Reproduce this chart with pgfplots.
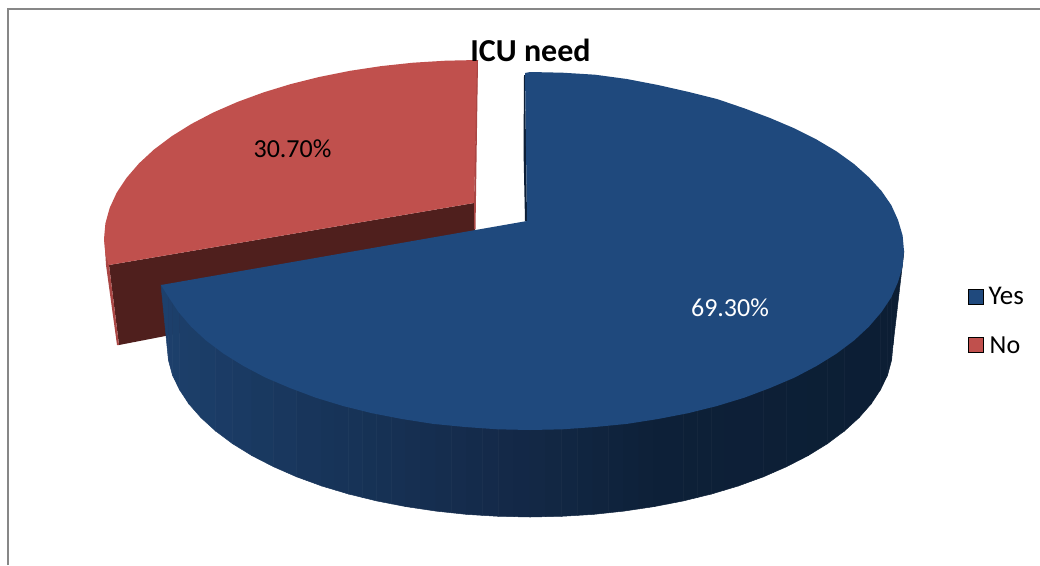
\documentclass[border=0pt]{standalone}
\usepackage{fontspec}
\setmainfont{Carlito}
\usepackage{pgfplots}
\pgfplotsset{compat=1.18}
\definecolor{pieblue}{RGB}{31,73,125}
\definecolor{piered}{RGB}{192,80,77}
\definecolor{reddark}{RGB}{79,31,29}
\definecolor{rededge}{RGB}{170,70,68}
\definecolor{bluedark}{RGB}{12,30,54}
\definecolor{frame}{RGB}{135,135,135}
\begin{document}
\begin{tikzpicture}
\useasboundingbox (0,0) rectangle (1040pt,565pt);
\begin{axis}[
    at={(0,0)}, anchor=south west,
    scale only axis, width=1040pt, height=565pt,
    xmin=0, xmax=1040, ymin=0, ymax=565,
    y dir=reverse,
    hide axis,
    colormap={side}{[1pt] rgb255(0pt)=(29,64,108) rgb255(139pt)=(24,54,92) rgb255(369pt)=(19,40,70) rgb255(499pt)=(13,32,56) rgb255(743pt)=(12,30,52)},
    point meta min=161, point meta max=904,
]
% frame
\addplot[frame, line width=1.8pt, forget plot] coordinates {(8,565) (8,9) (1040,9)};

% red slice: side, edges, top
\addplot[fill=reddark, draw=none, forget plot] coordinates {
    (109,265) (474,203) (475,229) (475,276) (119,345)} -- cycle;
\addplot[fill=rededge, draw=none, forget plot] coordinates {
    (104.5,240) (109,265) (119,345) (117,345) (106,265)} -- cycle;
\addplot[fill=piered, draw=none, forget plot] coordinates {
    (478,60) (445.4,60.7) (413,62.7) (381.2,66.1) (350.1,70.8) (320,76.8)
    (291,84) (263.5,92.4) (237.6,101.9) (213.5,112.4) (191.5,123.9)
    (171.6,136.3) (154,149.5) (139,163.4) (126.6,177.8) (116.7,192.7)
    (109.7,207.9) (105.4,223.4) (104,239) (105.4,254.6) (109,265) (474,203)} -- cycle;
\addplot[fill=rededge, draw=none, forget plot] coordinates {
    (477,60) (478,60) (475.5,229) (474,229) (474,203)} -- cycle;

% blue slice: wall in vertical strips (upper row is hidden by the top), sliver, top
\addplot[fill=bluedark, draw=none, forget plot] coordinates {
    (524,75) (523.5,150) (525,221) (527,221) (525,75)} -- cycle;
\addplot[surf, shader=faceted, faceted color=mapped color, line width=0.5pt, mesh/rows=2, point meta=x, forget plot] coordinates {
    (161,285) (168.4,290) (172.4,290) (179.4,295) (188.8,300) (201,300) (215.6,300)
    (232.6,300) (251.9,300) (273.3,300) (296.6,300) (321.8,300) (335.15,300) (348.5,300)
    (362.55,300) (376.6,300) (391.25,300) (405.9,300) (421,300) (436.1,300) (451.45,300)
    (466.8,300) (482.55,300) (498.3,300) (514.15,300) (530,251) (545.85,251) (561.7,251)
    (577.45,251) (593.2,251) (608.55,251) (623.9,251) (639,251) (654.1,251) (668.75,251)
    (683.4,251) (697.45,251) (711.5,251) (724.85,251) (738.2,251) (763.4,251) (786.7,251)
    (808.1,251) (827.4,251) (844.4,251) (859,251) (871.2,251) (880.6,251) (887.6,251)
    (891.6,251) (893,251) (904,251)
    (161,285) (168.4,360) (172.4,374.9) (179.4,389.5) (188.8,403.8) (201,417.7) (215.6,431)
    (232.6,443.7) (251.9,455.6) (273.3,466.6) (296.6,476.8) (321.8,486) (335.15,490) (348.5,494)
    (362.55,497.45) (376.6,500.9) (391.25,503.75) (405.9,506.6) (421,508.85) (436.1,511.1) (451.45,512.75)
    (466.8,514.4) (482.55,515.35) (498.3,516.3) (514.15,516.65) (530,517) (545.85,516.65) (561.7,516.3)
    (577.45,515.35) (593.2,514.4) (608.55,512.75) (623.9,511.1) (639,508.85) (654.1,506.6) (668.75,503.75)
    (683.4,500.9) (697.45,497.45) (711.5,494) (724.85,490) (738.2,486) (763.4,476.8) (786.7,466.6)
    (808.1,455.6) (827.4,443.7) (844.4,431) (859,417.7) (871.2,403.8) (880.6,389.5) (887.6,374.9)
    (891.6,360) (893,345) (904,251)
};
\addplot[fill=pieblue, draw=none, forget plot] coordinates {
    (525,73) (530,72) (562.6,72.7) (595,74.7) (626.8,79) (658,85) (688,91.8)
    (717,99) (744.5,108.4) (770,118) (794.5,128.4) (816.5,139.5) (836.4,151.3)
    (854,164) (869,177.4) (881.5,191) (891.3,205.2) (898,220) (902.6,235.4)
    (904,251) (902.6,266.6) (898,282) (891.3,297.3) (881.5,312) (869,326.6)
    (854,340.5) (836.4,353.7) (816.5,366) (794.5,377.6) (770,388) (744.5,397.6)
    (717,406) (688,413.2) (658,419) (626.8,423.9) (595,427) (562.6,429.3)
    (530,430) (497.4,429.3) (465,427) (433.2,423.9) (402,419) (372,413.2)
    (343,406) (315.5,397.6) (290,388) (265.5,377.6) (243.5,366) (223.6,353.7)
    (206,340.5) (191,326.6) (178.5,312) (168.7,297.3) (161,285) (527,221)} -- cycle;

% legend keys
\addplot[only marks, mark=square*, mark size=7.5pt, mark options={draw=none, fill=pieblue}, forget plot]
    coordinates {(975.5,296.5)};
\addplot[only marks, mark=square*, mark size=7.5pt, mark options={draw=none, fill=piered}, forget plot]
    coordinates {(975.5,344.5)};

\node[font=\fontsize{32}{32}\selectfont\bfseries] at (axis cs:530.5,50) {ICU need};
\node[font=\fontsize{26}{26}\selectfont] at (axis cs:292.5,149) {30.70\%};
\node[font=\fontsize{26}{26}\selectfont, text=white] at (axis cs:730,308) {69.30\%};
\node[font=\fontsize{27}{27}\selectfont, anchor=west, inner sep=0pt] at (axis cs:988.5,296) {Yes};
\node[font=\fontsize{26}{26}\selectfont, anchor=west, inner sep=0pt] at (axis cs:989.5,345) {No};
\end{axis}
\end{tikzpicture}
\end{document}
